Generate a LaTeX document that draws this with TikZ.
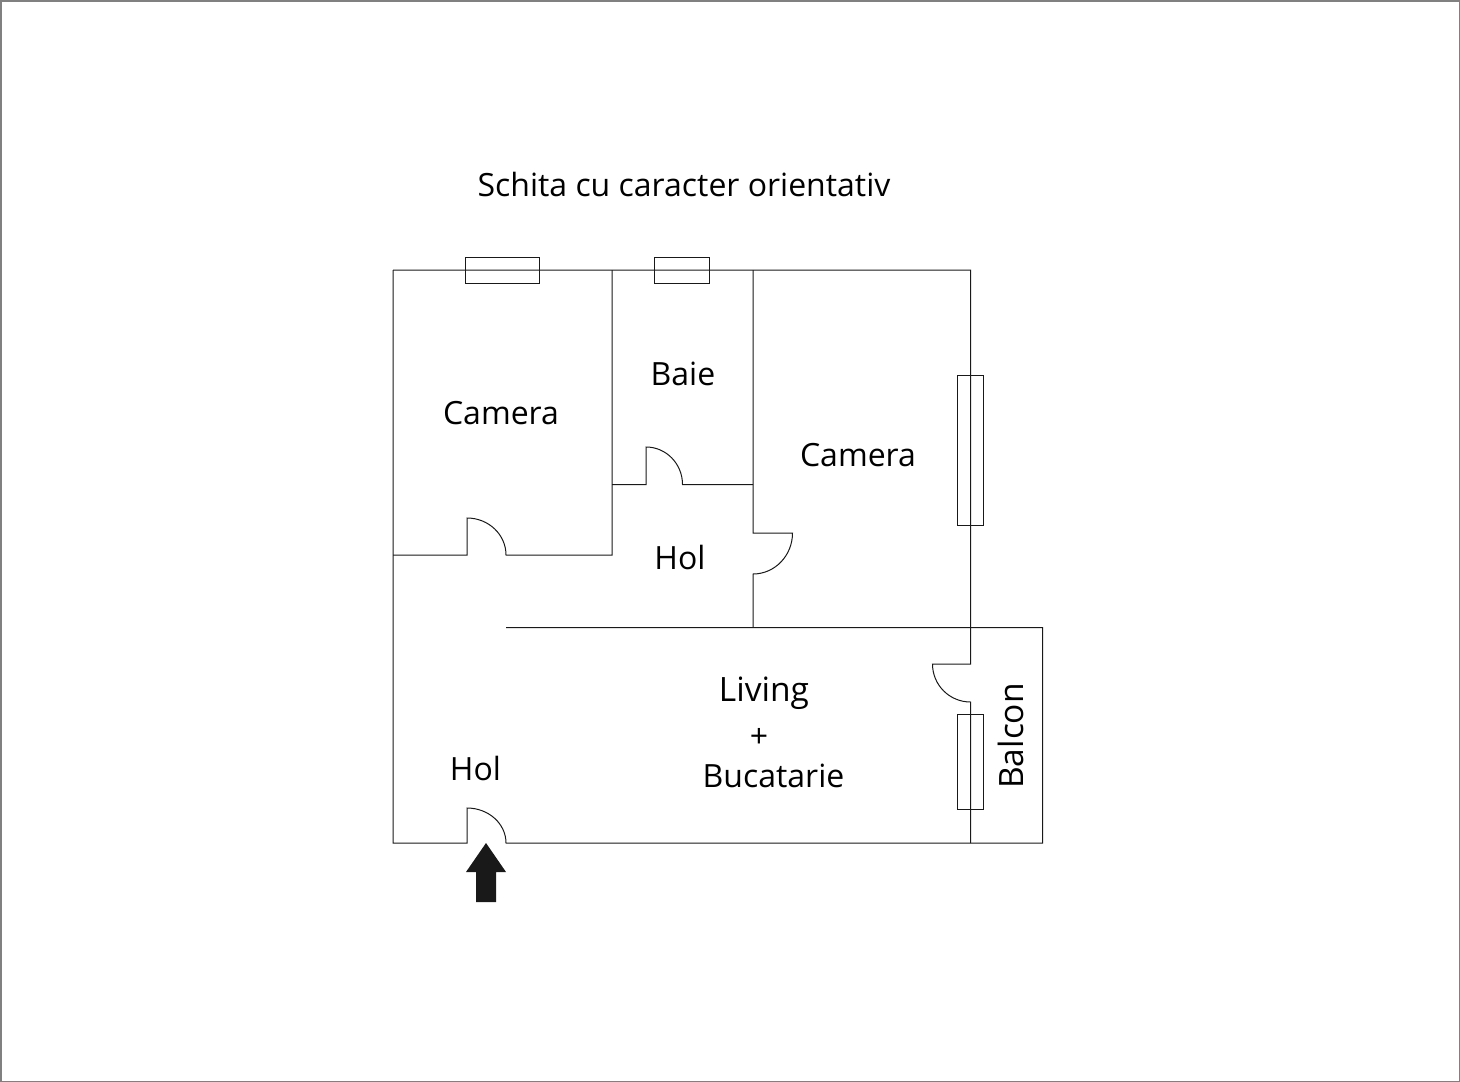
\documentclass[tikz,border=0pt]{standalone}
\usepackage{fontspec}
\setmainfont{Open Sans}
\tikzset{
    wall/.style={draw=black!90,line width=1pt},
    label/.style={font=\fontsize{32}{36}\selectfont,text=black,inner sep=0pt},
    biglabel/.style={label,font=\fontsize{33.5}{36}\selectfont}
}
\begin{document}
\begin{tikzpicture}[x=1pt,y=-1pt]
\useasboundingbox (0,0) rectangle (1460,1082);
\draw[draw=black!50,line width=1.5pt] (0.75,0.75) rectangle (1459.25,1081.25);

% Walls and doors
\draw[wall] (393,270) -- (970.5,270) -- (970.5,664) -- (932.5,664) arc[start angle=180,end angle=270,x radius=38,y radius=-38] -- (970.5,843);
\draw[wall] (393,270) -- (393,843) -- (467,843) -- (467,808) arc[start angle=90,end angle=0,x radius=39,y radius=-35] -- (1042.5,843) -- (1042.5,627.5) -- (506,627.5);
\draw[wall] (393,555) -- (467,555) -- (467,518) arc[start angle=90,end angle=0,x radius=39,y radius=-37] -- (612,555) -- (612,270);
\draw[wall] (612,484.5) -- (646,484.5) -- (646,447) arc[start angle=90,end angle=0,x radius=36.5,y radius=-37.5] -- (753,484.5);
\draw[wall] (753,270) -- (753,533) -- (792.5,533) arc[start angle=0,end angle=-90,x radius=39.5,y radius=-41] -- (753,627.5);

% Windows
\foreach \xa/\ya/\xb/\yb in {
    465.5/257/539/283,
    654.5/257/709.5/283,
    957/375/983.5/525,
    957/714/983.5/809
} {
    \draw[wall] (\xa,\ya) rectangle (\xb,\yb);
}

% Entrance
\fill[black!90] (486,843) -- (506,872) -- (496,872) -- (496,902) -- (476,902) -- (476,872) -- (466,872) -- cycle;

% Room names
\foreach \name/\x/\y/\txt in {
    title/684/184/Schita cu caracter orientativ,
    camerastanga/501/413.5/Camera,
    baie/683/373.5/Baie,
    cameradreapta/858/455.5/Camera,
    holsus/680/557.5/Hol,
    holjos/475.5/768.5/Hol,
    plus/759/738/+,
    bucatarie/773.5/776/Bucatarie
} {
    \node[label] (\name) at (\x,\y) {\txt};
}
\node[biglabel] (living) at (764,693) {Living};
\node[biglabel,rotate=90] (balcon) at (1011,736) {Balcon};
\end{tikzpicture}
\end{document}
